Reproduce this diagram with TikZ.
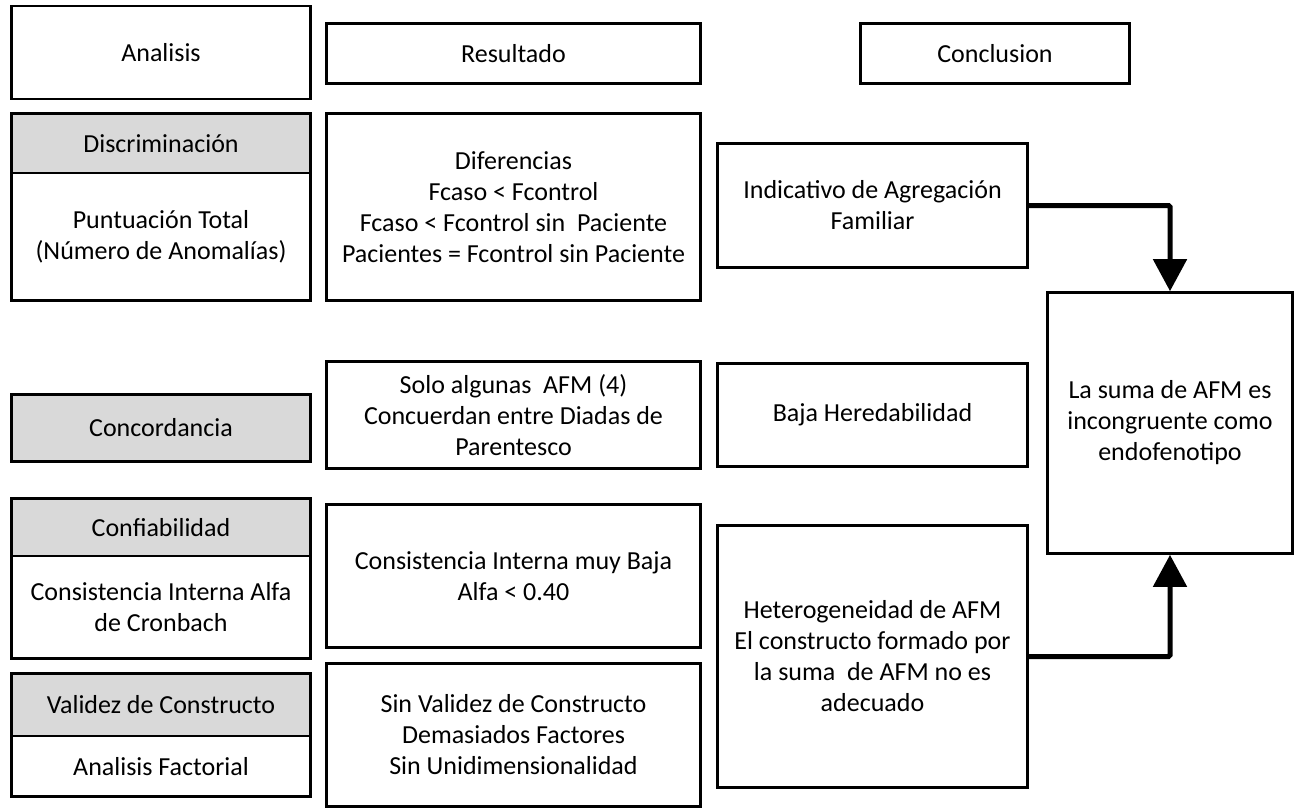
\documentclass[tikz,border=0pt]{standalone}
\usepackage{fontspec}
\setmainfont{Carlito}
\usetikzlibrary{arrows.meta}
\definecolor{hdrgray}{HTML}{D9D9D9}
\tikzset{
  box/.style={draw, line width=2.6pt, align=center, inner sep=0pt, fill=white,
    font=\fontsize{26}{31}\selectfont},
  hdr/.style={box, fill=hdrgray},
  bigarrow/.style={line width=5pt, rounded corners=1.5pt, -{Triangle[width=33pt,length=32pt]}}
}
\begin{document}
\begin{tikzpicture}[x=1pt,y=-1pt]
\useasboundingbox (0,0) rectangle (1299,811);
% column 1
\node[box, minimum width=299pt, minimum height=93pt] (ana) at (161,52.5) {Analisis};
\node[hdr, minimum width=299pt, minimum height=59.5pt] (discH) at (161,143.25) {Discriminación};
\node[box, minimum width=299pt, minimum height=127.5pt] (discB) at (161,236.75) {Puntuación Total\\(Número de Anomalías)};
\node[hdr, minimum width=299pt, minimum height=67pt] (conc) at (161,428) {Concordancia};
\node[hdr, minimum width=299pt, minimum height=57.5pt] (confH) at (161,527.25) {Confiabilidad};
\node[box, minimum width=299pt, minimum height=102.5pt] (confB) at (161,607.25) {Consistencia Interna Alfa\\de Cronbach};
\node[hdr, minimum width=299pt, minimum height=62.5pt] (valH) at (161,704.75) {Validez de Constructo};
\node[box, minimum width=299pt, minimum height=60.5pt] (valB) at (161,766.25) {Analisis Factorial};
% column 2
\node[box, minimum width=374pt, minimum height=60pt] (res) at (513.5,53.5) {Resultado};
\node[box, minimum width=374pt, minimum height=187pt] (dif) at (513.5,207) {Diferencias\\Fcaso < Fcontrol\\Fcaso < Fcontrol sin \ Paciente\\Pacientes = Fcontrol sin Paciente};
\node[box, minimum width=374pt, minimum height=107pt] (solo) at (513.5,415) {Solo algunas \ AFM (4)\\Concuerdan entre Diadas de\\Parentesco};
\node[box, minimum width=374pt, minimum height=143pt] (cons) at (513.5,576) {Consistencia Interna muy Baja\\Alfa < 0.40};
\node[box, minimum width=374pt, minimum height=143pt] (sinv) at (513.5,735) {Sin Validez de Constructo\\Demasiados Factores\\Sin Unidimensionalidad};
% column 3
\node[box, minimum width=269pt, minimum height=60pt] (concl) at (995,53.5) {Conclusion};
\node[box, minimum width=310pt, minimum height=124pt] (ind) at (872.5,205.5) {Indicativo de Agregación\\Familiar};
\node[box, minimum width=310pt, minimum height=103pt] (baja) at (872.5,415) {Baja Heredabilidad};
\node[box, minimum width=310pt, minimum height=262pt] (het) at (872.5,656.5) {Heterogeneidad de AFM\\El constructo formado por\\la suma \ de AFM no es\\adecuado};
% column 4
\node[box, minimum width=245pt, minimum height=261pt] (big) at (1170,423) {La suma de AFM es\\incongruente como\\endofenotipo};
% arrows
\draw[bigarrow] (ind.east) -| (big.north);
\draw[bigarrow] (het.east) -| (big.south);
\end{tikzpicture}
\end{document}
